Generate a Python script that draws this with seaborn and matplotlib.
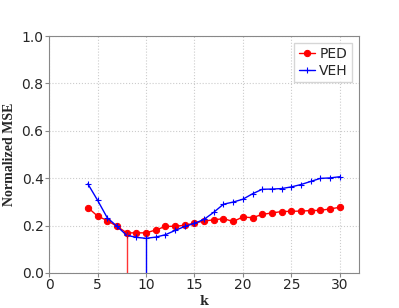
import numpy as np
import pandas as pd
import matplotlib
matplotlib.use("Agg")
import matplotlib.pyplot as plt
import seaborn as sns

k = list(range(4, 31))
ped = [0.276, 0.240, 0.221, 0.197, 0.169, 0.169, 0.169, 0.181, 0.196, 0.197,
       0.201, 0.210, 0.219, 0.224, 0.229, 0.217, 0.236, 0.233, 0.247, 0.253,
       0.259, 0.260, 0.261, 0.263, 0.264, 0.270, 0.277]
veh = [0.376, 0.307, 0.233, 0.197, 0.159, 0.150, 0.146, 0.151, 0.161, 0.179,
       0.196, 0.209, 0.226, 0.256, 0.290, 0.299, 0.311, 0.334, 0.353, 0.354,
       0.356, 0.363, 0.373, 0.386, 0.399, 0.401, 0.406]
best_ped_k = 8
best_veh_k = 10

sns.set_style("whitegrid", {"grid.linestyle": ":", "grid.color": "#cccccc",
                            "axes.edgecolor": "#888888"})
plt.rcParams['font.family'] = ['DejaVu Sans']

fig = plt.figure(figsize=(3.99, 3.08), dpi=100)
ax = fig.add_axes([0.123, 0.114, 0.777, 0.769])

df = pd.DataFrame({"k": k, "PED": ped, "VEH": veh})
sns.lineplot(data=df, x="k", y="PED", ax=ax, color="red", marker="o",
             markersize=4.5, markeredgecolor="red", linewidth=1.0, label="PED")
sns.lineplot(data=df, x="k", y="VEH", ax=ax, color="blue", marker="+",
             markersize=5, markeredgewidth=0.8, markeredgecolor="blue",
             linewidth=1.0, label="VEH")
ax.vlines(best_ped_k, 0, ped[k.index(best_ped_k)], color="red", linewidth=1, alpha=0.8)
ax.vlines(best_veh_k, 0, veh[k.index(best_veh_k)], color="blue", linewidth=1)

ax.set_xlim(0, 32)
ax.set_ylim(0, 1.0)
ax.set_xticks([0, 5, 10, 15, 20, 25, 30])
ax.set_yticks([0.0, 0.2, 0.4, 0.6, 0.8, 1.0])
ax.tick_params(labelsize=10, length=3, color="#888888", left=True, bottom=True, pad=1)
ax.set_xlabel("k", family="DejaVu Serif", fontweight="bold", fontsize=9, labelpad=2)
ax.set_ylabel("Normalized MSE", family="Liberation Serif", fontweight="bold", fontsize=10, labelpad=4)
leg = ax.legend(loc="upper right", fontsize=10, handlelength=1.2,
                handletextpad=0.3, borderpad=0.3, labelspacing=0.2, frameon=True,
                fancybox=False)
leg.get_frame().set_edgecolor("#cccccc")
for s in ax.spines.values():
    s.set_color("#888888")

fig.savefig("out.png", dpi=100)
